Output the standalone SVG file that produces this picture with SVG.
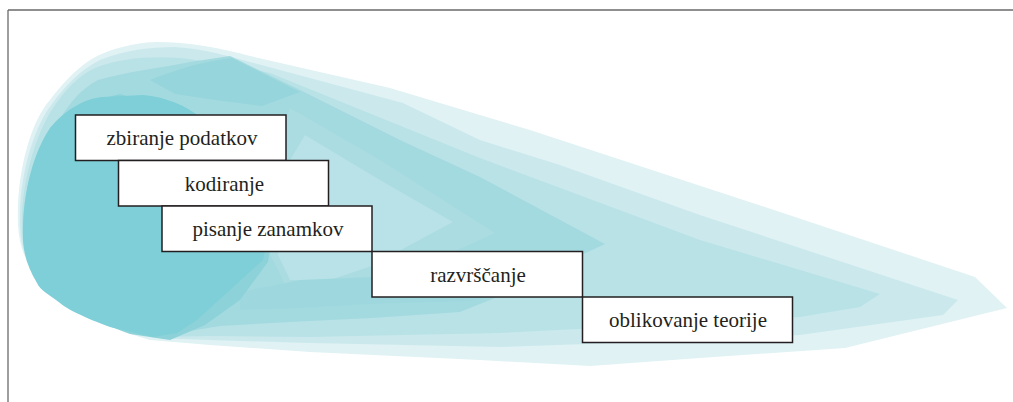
<svg xmlns="http://www.w3.org/2000/svg" width="1013" height="402" viewBox="0 0 1013 402">
<style>
.box{fill:#fff;stroke:#231f20;stroke-width:1.5}
.lbl{font-family:"Liberation Serif","Times New Roman",serif;font-size:21px;fill:#231f20;text-anchor:middle}
.frame{stroke:#6a6a6a;stroke-width:1.3;fill:none}
</style>
<rect width="1013" height="402" fill="#fff"/>
<g id="frame">
<line class="frame" x1="8" y1="10" x2="1013" y2="10"/>
<line class="frame" x1="8" y1="10" x2="8" y2="402"/>
</g>
<g id="background-shape">
<path fill="#e0f2f4" d="M18,225 C16,170 32,120 50,100 C62,84 75,70 90,60 C110,48 135,43 155,42 C190,42 220,48 250,56 L390,88 L530,130 L780,212 L975,277 L1007,308 L845,348 L700,358 L590,366 L480,360 L310,352 L210,345 L150,340 C100,326 55,300 38,280 C25,262 19,245 18,225 Z"/>
<path fill="#cbe9ec" d="M20,228 C18,175 35,125 52,104 C65,86 80,70 100,60 C125,50 150,47 175,47 C205,49 228,56 250,62 L403,103 L480,140 L560,165 L700,215 L958,300 L943,315 L800,335 L700,340 L500,347 L310,343 L210,340 L155,338 C105,325 60,302 40,282 C27,265 21,247 20,228 Z"/>
<path fill="#b9e2e7" d="M22,232 C20,180 38,130 53,108 C65,90 78,76 95,68 C120,58 150,56 180,58 C215,62 245,68 270,73 L480,158 L700,240 L880,294 L860,307 L800,317 L700,323 L500,333 L310,337 L210,336 L158,337 C108,324 62,302 42,283 C29,266 23,250 22,232 Z"/>
<path fill="#a3dae0" d="M23,236 C21,185 40,142 58,122 C70,102 82,88 98,80 C125,72 160,68 190,62 L230,56 L300,90 L400,140 L480,177 L605,244 L560,265 L510,292 L460,312 L372,318 L290,322 L220,326 L160,336 C110,324 64,302 44,284 C31,268 24,252 23,236 Z"/>
<path fill="#aadce1" d="M290,108 L380,160 L495,233 L440,258 L400,280 L330,290 L285,285 L268,250 L275,150 Z"/>
<path fill="#b8e2e7" d="M305,135 L380,180 L453,222 L410,245 L372,266 L330,280 L290,280 L278,255 L290,160 Z"/>
<path fill="#9ed8de" d="M240,292 L300,280 L372,277 L450,281 L520,292 L470,301 L372,304 L300,308 L240,310 Z"/>
<path fill="#96d5db" d="M150,80 C175,70 200,62 232,58 L300,92 L262,106 L215,100 L175,94 Z"/>
<path fill="#8ed2d9" d="M25,238 C24,195 36,160 52,135 C70,112 92,100 120,94 L200,117 L270,250 L268,262 L240,300 L205,325 L170,340 L130,334 C90,320 58,303 40,285 C30,270 26,255 25,238 Z"/>
<path fill="#7ecfd7" d="M23,240 C22,190 35,150 50,128 C65,110 85,98 103,97 L143,95 C165,97 185,105 200,117 L265,251 L263,260 L230,290 L197,320 L177,333 L153,337 L110,327 C85,318 65,308 60,303 C48,294 40,290 37,283 C28,268 24,255 23,240 Z"/>
</g>
<g id="connectors"></g>
<g id="node-zbiranje">
<rect class="box" x="75.5" y="115" width="210.5" height="45.5"/>
<text class="lbl" x="182" y="145">zbiranje podatkov</text>
</g>
<g id="node-kodiranje">
<rect class="box" x="118.5" y="160.5" width="210" height="45.5"/>
<text class="lbl" x="224.5" y="190.5">kodiranje</text>
</g>
<g id="node-pisanje">
<rect class="box" x="162" y="206" width="210" height="45.5"/>
<text class="lbl" x="268" y="236">pisanje zanamkov</text>
</g>
<g id="node-razvrscanje">
<rect class="box" x="372" y="251.5" width="210.5" height="45.5"/>
<text class="lbl" x="478" y="281.5">razvrščanje</text>
</g>
<g id="node-oblikovanje">
<rect class="box" x="582.5" y="297" width="210" height="45.5"/>
<text class="lbl" x="688" y="327">oblikovanje teorije</text>
</g>
</svg>
